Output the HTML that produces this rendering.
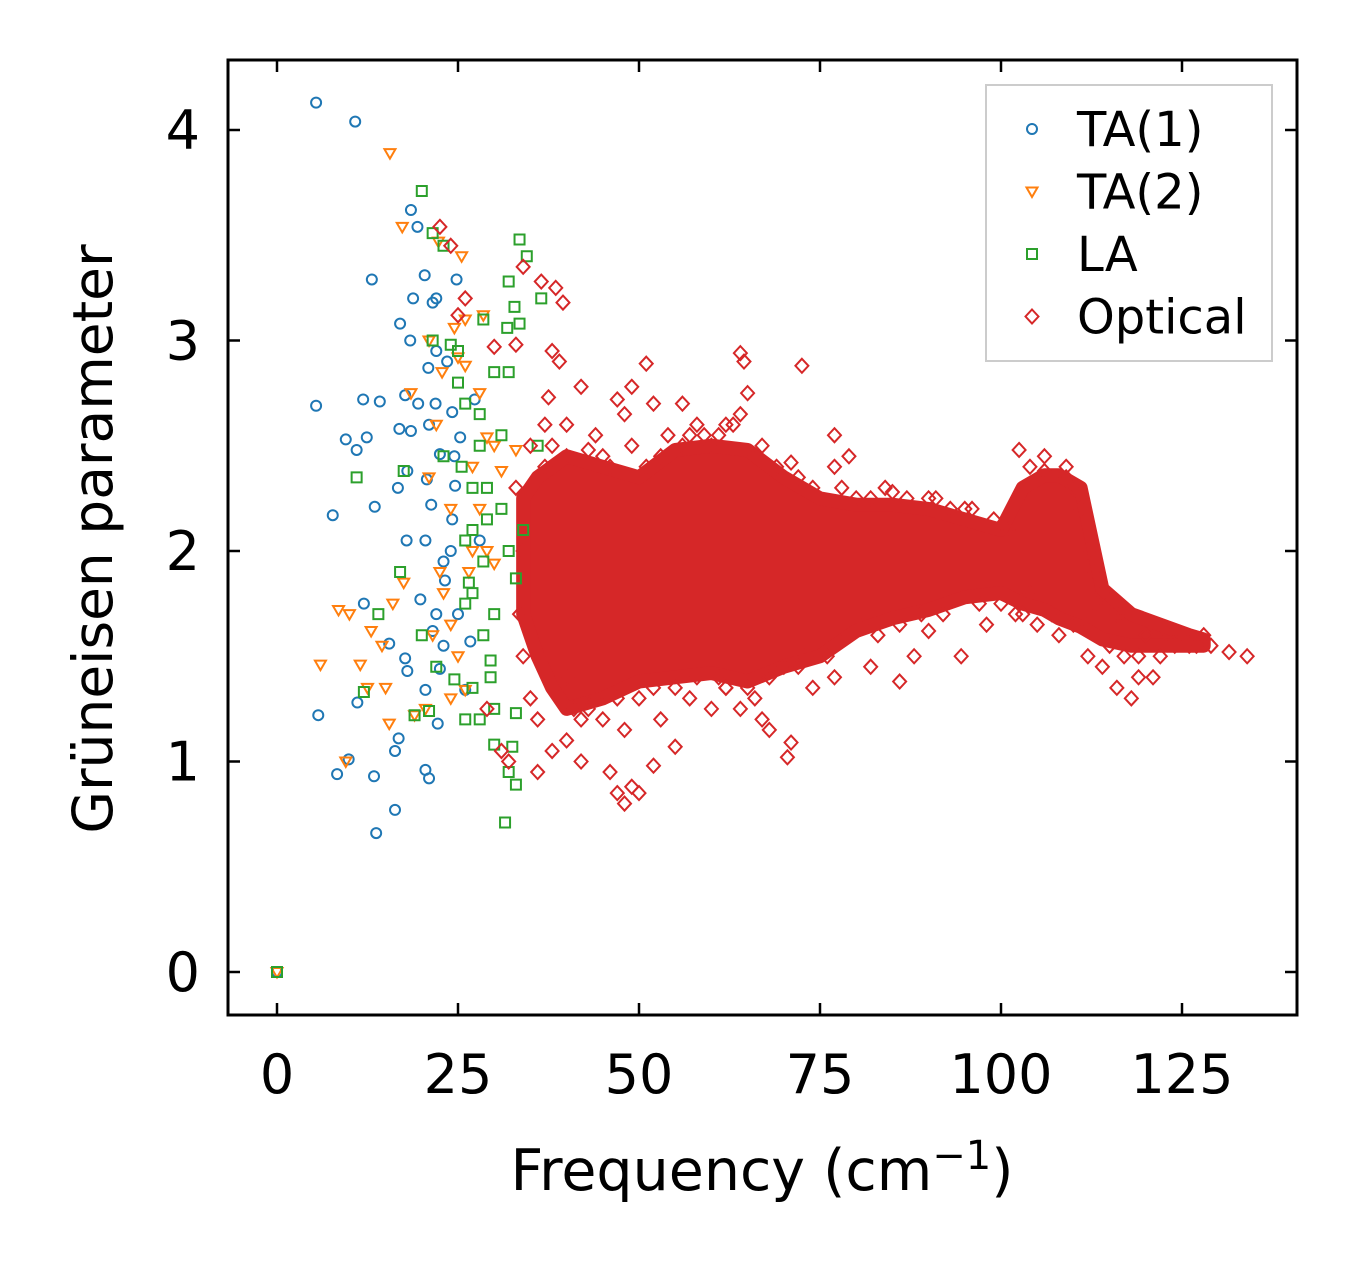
<!DOCTYPE html>
<html><head><meta charset="utf-8"><style>
html,body{margin:0;padding:0;background:#fff;}
svg text{font-family:"DejaVu Sans","Liberation Sans",sans-serif;fill:#000;}
</style></head><body>
<svg id="chart" width="1357" height="1264" viewBox="0 0 1357 1264" xmlns="http://www.w3.org/2000/svg">
<g id="marks"></g>
<rect x="228" y="60" width="1069" height="955" fill="none" stroke="#000" stroke-width="3"/>
<g id="axes"></g>
<text x="762" y="1190" font-size="57" text-anchor="middle">Frequency (cm<tspan dy="-21" font-size="40">−1</tspan><tspan dy="21">)</tspan></text>
<text transform="translate(112,539) rotate(-90)" font-size="55" text-anchor="middle">Grüneisen parameter</text>
<g>
<rect x="986" y="85" width="286" height="276" fill="#fff" stroke="#ccc" stroke-width="2"/>
<g id="legend-items"></g>
</g>
</svg>
<script>
const xTicks = [0, 25, 50, 75, 100, 125];
const yTicks = [0, 1, 2, 3, 4];
const seriesNames = ["TA(1)", "TA(2)", "LA", "Optical"];
const seriesColors = ["#1f77b4", "#ff7f0e", "#2ca02c", "#d62728"];

const ta1 = [[0,0],[5.4,4.13],[10.8,4.04],[18.5,3.62],[19.4,3.54],[13.1,3.29],[5.4,2.69],[9.5,2.53],[11,2.48],[12.4,2.54],[11.9,2.72],[14.2,2.71],[13.5,2.21],[7.7,2.17],[5.7,1.22],[8.3,0.94],[9.9,1.01],[13.4,0.93],[13.7,0.66],[16.3,0.77],[16.3,1.05],[16.8,1.11],[15.5,1.56],[12,1.75],[11.1,1.28],[17.7,1.49],[18,2.38],[16.7,2.3],[16.9,2.58],[18.5,2.57],[17.7,2.74],[18.4,3.0],[17,3.08],[18.8,3.2],[20.4,3.31],[21.5,3.18],[20.9,2.87],[21.9,2.7],[22.5,2.46],[20.7,2.34],[21.3,2.22],[20.5,2.05],[17.9,2.05],[19.8,1.77],[21.5,1.62],[22.5,1.44],[20.5,1.34],[22.2,1.18],[20.5,0.96],[21,0.92],[18,1.43],[23.2,1.86],[24.2,2.15],[24.6,2.31],[24.8,3.29],[24.2,2.66],[25.3,2.54],[27.3,2.72],[26.7,1.57],[26,1.34],[28,2.05],[23,1.95],[22,2.95],[19.5,2.7],[22,3.2],[23.5,2.9],[21,2.6],[24,2.0],[25,1.7],[23,1.55],[22,1.7],[24.5,2.45]];
const ta2 = [[0,0],[15.6,3.89],[17.3,3.54],[22.3,3.47],[25.5,3.4],[24.5,3.06],[28.5,3.12],[21,3.0],[22.8,2.85],[25,2.92],[26,2.88],[18.5,2.75],[22,2.6],[28,2.75],[29,2.54],[30,2.5],[24,2.2],[21,2.35],[28,2.2],[27,2.0],[30,1.94],[22.5,1.9],[17.5,1.85],[16,1.75],[8.5,1.72],[10,1.7],[13,1.62],[14.5,1.55],[6,1.46],[11.5,1.46],[12.5,1.35],[15,1.35],[15.5,1.18],[19,1.22],[20.5,1.25],[24,1.3],[26,1.34],[25,1.5],[9.5,1.0],[21.5,1.6],[23,1.8],[29,2.0],[31,2.38],[33,2.48],[26,3.1],[27,2.4],[24,1.65],[26.5,1.9]];
const la = [[0,0],[20,3.71],[21.5,3.51],[23,3.45],[33.5,3.48],[34.5,3.4],[32,3.28],[32.8,3.16],[33.5,3.08],[31.8,3.06],[36.5,3.2],[28.5,3.1],[21.5,3.0],[24,2.98],[25,2.95],[30,2.85],[32,2.85],[26,2.7],[28,2.65],[31,2.55],[36,2.5],[23,2.45],[25.5,2.4],[27,2.3],[29,2.3],[31,2.2],[34,2.1],[26,2.05],[28.5,1.95],[32,2.0],[33,1.87],[17,1.9],[17.5,2.38],[11,2.35],[14,1.7],[12,1.33],[20,1.6],[22,1.45],[26,1.75],[27,1.8],[28.5,1.6],[29.5,1.48],[26,1.2],[28,1.2],[30,1.25],[33,1.23],[30,1.08],[32,0.95],[33,0.89],[31.5,0.71],[32.5,1.07],[19,1.22],[21,1.24],[24.5,1.39],[27,1.35],[27,2.1],[29,2.15],[30,1.7],[26.5,1.85],[28,2.5],[25,2.8],[29.5,1.4]];

const optFreq = [34,36,38,40,45,50,55,60,65,70,75,80,85,90,95,100,103,106,108,111,114,118,122,126,128];
const optLow  = [1.7,1.5,1.35,1.25,1.3,1.38,1.4,1.42,1.38,1.45,1.5,1.62,1.68,1.72,1.78,1.8,1.75,1.72,1.68,1.64,1.58,1.55,1.55,1.55,1.55];
const optHigh = [2.25,2.35,2.4,2.45,2.4,2.35,2.48,2.5,2.48,2.35,2.25,2.22,2.22,2.2,2.15,2.1,2.3,2.36,2.36,2.3,1.82,1.7,1.65,1.6,1.58];
const optical = [[22.5,3.54],[24,3.45],[25,3.12],[26,3.2],[30,2.97],[33,2.98],[34,3.35],[36.5,3.28],[38.5,3.25],[39.5,3.18],[38,2.95],[39,2.9],[37.5,2.73],[42,2.78],[40,2.6],[44,2.55],[47,2.72],[48,2.65],[51,2.89],[49,2.78],[56,2.7],[52,2.7],[64,2.94],[64.5,2.9],[65,2.75],[72.5,2.88],[77,2.55],[66,2.45],[62,2.6],[58,2.6],[71,2.42],[79,2.45],[84,2.3],[90,2.25],[95,2.2],[102.5,2.48],[104,2.4],[106,2.38],[109,2.4],[29,1.25],[31,1.05],[32,1.0],[36,0.95],[38,1.05],[40,1.1],[42,1.0],[45,1.2],[46,0.95],[47,0.85],[48,0.8],[49,0.88],[50,0.85],[52,0.98],[53,1.2],[55,1.07],[57,1.3],[60,1.25],[62,1.35],[64,1.25],[67,1.2],[68,1.15],[70.5,1.02],[71,1.09],[74,1.35],[77,1.4],[82,1.45],[86,1.38],[88,1.5],[90,1.62],[94.5,1.5],[98,1.65],[102,1.7],[105,1.65],[108,1.6],[112,1.5],[114,1.45],[116,1.35],[118,1.3],[119,1.4],[121,1.4],[120,1.6],[124,1.55],[127,1.55],[129,1.55],[131.5,1.52],[134,1.5],[117,1.7],[113,1.75],[40,1.4],[42,1.2],[43,1.25],[39,1.3],[61,1.4],[72,1.45],[35,2.5],[37,2.4],
[33,2.3],[34,2.0],[33.5,1.7],[34,1.5],[35,1.3],[36,1.2],[37,2.6],[38,2.5],[40,2.45],[41,1.25],[43,2.48],[44,1.3],[45,2.45],[46,2.4],[47,1.3],[48,1.15],[49,2.5],[50,1.3],[51,2.4],[52,1.35],[53,2.45],[54,2.55],[55,1.35],[56,2.5],[57,2.55],[58,1.4],[59,2.55],[60,2.5],[61,2.55],[62,1.35],[63,2.6],[64,2.65],[65,1.35],[66,1.3],[67,2.5],[68,1.4],[69,2.4],[70,1.45],[72,2.35],[73,1.5],[74,2.3],[76,1.5],[77,2.4],[78,2.3],[79,1.6],[80,2.25],[81,1.65],[82,2.25],[83,1.6],[85,2.28],[86,1.65],[87,2.25],[89,1.7],[91,2.25],[92,1.7],[93,2.2],[96,2.2],[97,1.75],[99,2.15],[100,1.75],[101,2.1],[103,1.7],[104,1.8],[106,2.45],[107,1.7],[109,2.35],[110,2.3],[110,1.65],[111,2.2],[112,2.0],[112,1.65],[113,1.9],[114,1.8],[115,1.55],[116,1.7],[117,1.5],[119,1.5],[121,1.65],[122,1.5],[123,1.6],[125,1.6],[126,1.55],[128,1.6]];

const NS = "http://www.w3.org/2000/svg";
const X = v => 277 + v * (1182 - 277) / 125;
const Y = v => 972 - v * (972 - 130) / 4;

function markerPath(kind, cx, cy) {
  if (kind === 0) return `M${cx-5},${cy} a5,5 0 1,0 10,0 a5,5 0 1,0 -10,0`;
  if (kind === 1) return `M${cx-5.5},${cy-4} L${cx+5.5},${cy-4} L${cx},${cy+5.5} Z`;
  if (kind === 2) return `M${cx-5},${cy-5} h10 v10 h-10 Z`;
  return `M${cx},${cy-7} L${cx+6.5},${cy} L${cx},${cy+7} L${cx-6.5},${cy} Z`;
}
const marks = document.getElementById("marks");

let pts = optFreq.map((f, i) => `${X(f)},${Y(optHigh[i])}`);
for (let i = optFreq.length - 1; i >= 0; i--) pts.push(`${X(optFreq[i])},${Y(optLow[i])}`);
const core = document.createElementNS(NS, "polygon");


core.setAttribute("points", pts.join(" "));
core.setAttribute("fill", "#d62728");
core.setAttribute("stroke", "#d62728");
core.setAttribute("stroke-width", "14");
core.setAttribute("stroke-linejoin", "round");
marks.appendChild(core);

function drawSeries(data, kind, name) {
  const g = document.createElementNS(NS, "g");
  
  
  data.forEach(d => {
    const p = document.createElementNS(NS, "path");
    
    
    p.setAttribute("d", markerPath(kind, X(d[0]), Y(d[1])));
    p.setAttribute("fill", "none");
    p.setAttribute("stroke", seriesColors[kind]);
    p.setAttribute("stroke-width", "2");
    g.appendChild(p);
  });
  marks.appendChild(g);
}
drawSeries(ta1, 0, "ta1");
drawSeries(ta2, 1, "ta2");
drawSeries(la, 2, "la");
drawSeries(optical, 3, "optical");

const axes = document.getElementById("axes");
xTicks.forEach(t => {
  const x = X(t);
  [[1015, 1003], [60, 72]].forEach(([a, b]) => {
    const l = document.createElementNS(NS, "line");
    
    
    l.setAttribute("x1", x); l.setAttribute("x2", x);
    l.setAttribute("y1", a); l.setAttribute("y2", b);
    l.setAttribute("stroke", "#000"); l.setAttribute("stroke-width", "2.5");
    axes.appendChild(l);
  });
  const tx = document.createElementNS(NS, "text");
  
  
  tx.setAttribute("x", x); tx.setAttribute("y", 1093);
  tx.setAttribute("font-size", "54"); tx.setAttribute("text-anchor", "middle");
  tx.textContent = t;
  axes.appendChild(tx);
});
yTicks.forEach(t => {
  const y = Y(t);
  [[228, 240], [1297, 1285]].forEach(([a, b]) => {
    const l = document.createElementNS(NS, "line");
    
    
    l.setAttribute("x1", a); l.setAttribute("x2", b);
    l.setAttribute("y1", y); l.setAttribute("y2", y);
    l.setAttribute("stroke", "#000"); l.setAttribute("stroke-width", "2.5");
    axes.appendChild(l);
  });
  const tx = document.createElementNS(NS, "text");
  
  
  tx.setAttribute("x", 200); tx.setAttribute("y", y + 19);
  tx.setAttribute("font-size", "54"); tx.setAttribute("text-anchor", "end");
  tx.textContent = t;
  axes.appendChild(tx);
});

const lg = document.getElementById("legend-items");
seriesNames.forEach((n, i) => {
  const y = 129 + i * 62.5;
  const p = document.createElementNS(NS, "path");
  
  
  p.setAttribute("d", markerPath(i, 1032, y));
  p.setAttribute("fill", "none"); p.setAttribute("stroke", seriesColors[i]); p.setAttribute("stroke-width", "2");
  lg.appendChild(p);
  const t = document.createElementNS(NS, "text");
  
  
  t.setAttribute("x", 1077); t.setAttribute("y", y + 17); t.setAttribute("font-size", "48");
  t.textContent = n;
  lg.appendChild(t);
});
</script>
</body></html>
